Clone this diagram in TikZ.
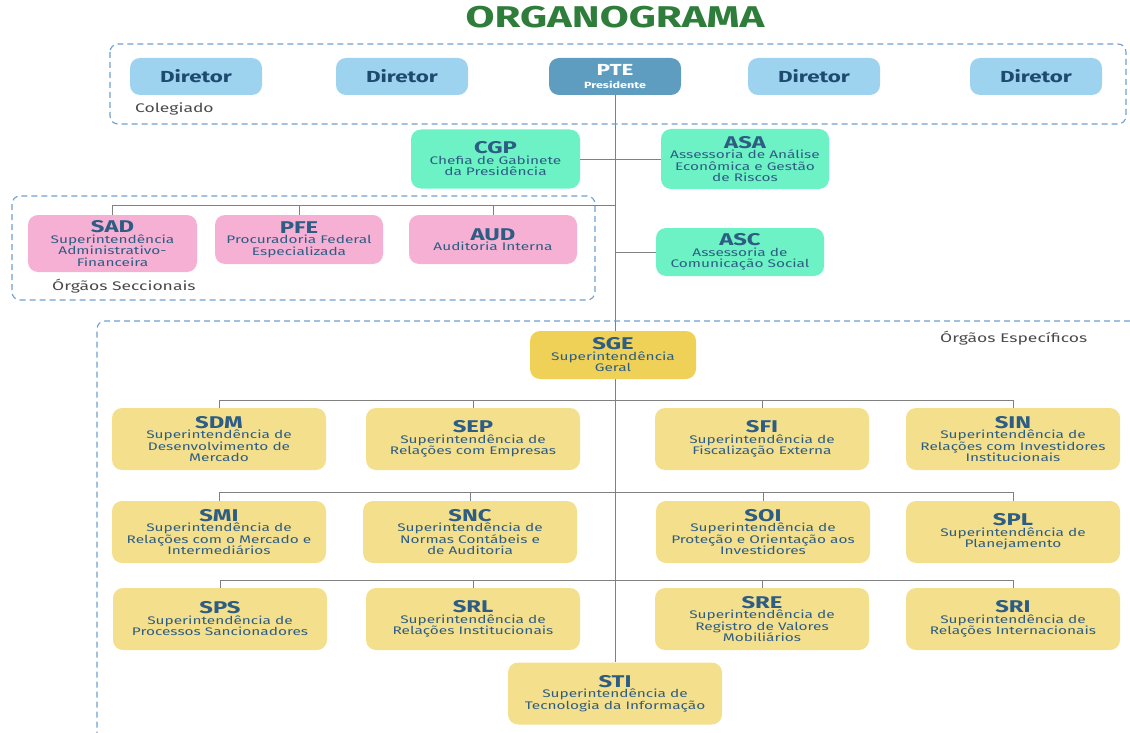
\documentclass[tikz,border=0pt]{standalone}
\usepackage{fontspec}
\setmainfont{Fira Sans}[FakeStretch=1.4]
\usepackage{xcolor}
\usetikzlibrary{backgrounds}
\definecolor{titgreen}{HTML}{2E7D3A}
\definecolor{navy}{HTML}{1F4A70}
\definecolor{navylight}{HTML}{2E5D84}
\definecolor{dashblue}{HTML}{6E9FCF}
\definecolor{dirblue}{HTML}{9DD3EE}
\definecolor{ptblue}{HTML}{5E9DC0}
\definecolor{mint}{HTML}{6CF2C5}
\definecolor{pink}{HTML}{F5B0D4}
\definecolor{sgeyellow}{HTML}{F0D158}
\definecolor{yellow}{HTML}{F4DF8C}
\definecolor{linkgray}{HTML}{808080}
\definecolor{labelgray}{HTML}{4A4A4A}
\newcommand{\sigla}[2]{{\fontsize{17}{16}\selectfont\bfseries #1}\\[-1pt]#2}

\begin{document}
\begin{tikzpicture}[x=1pt,y=-1pt,
    orgbox/.style={rounded corners=10pt, inner sep=0pt, align=center, text=navylight,
        font=\fontsize{11}{11.5}\selectfont},
    diretor/.style={orgbox, fill=dirblue, minimum width=132, minimum height=37, text=navy,
        font=\fontsize{16}{16}\selectfont\bfseries},
    assess/.style={orgbox, fill=mint, minimum width=168},
    secc/.style={orgbox, fill=pink, minimum width=168},
    superint/.style={orgbox, fill=yellow, minimum width=214, minimum height=62},
    grupo/.style={draw=dashblue, line width=1.1pt, dash pattern=on 6pt off 4pt, rounded corners=8pt},
    grupotxt/.style={anchor=west, inner sep=0pt, text=labelgray, font=\fontsize{12.5}{13}\selectfont},
    link/.style={draw=linkgray, line width=0.9pt}]
    \useasboundingbox (0,0) rectangle (1130,733);
    \node[text=titgreen, font=\fontsize{30}{32}\selectfont\bfseries] (titulo) at (615,17) {ORGANOGRAMA};
    \draw[grupo] (110,44) rectangle (1126,124);
    \draw[grupo] (12,196) rectangle (595,300);
    \draw[grupo] (1130,321) -- (97,321) -- (97,740);
    \node[grupotxt] (colegiado) at (135,109) {Colegiado};
    \node[grupotxt] (seccionais) at (52,286) {Órgãos Seccionais};
    \node[grupotxt] (especificos) at (940,338) {Órgãos Específicos};

    \node[diretor] (dir1) at (196,76.5) {Diretor};
    \node[diretor] (dir2) at (402,76.5) {Diretor};
    \node[diretor, fill=ptblue, text=white, align=center] (PTE) at (615,76.5)
        {PTE\\[-3pt]{\fontsize{9}{9}\selectfont Presidente}};
    \node[diretor] (dir3) at (814,76.5) {Diretor};
    \node[diretor] (dir4) at (1036,76.5) {Diretor};

    \node[assess, minimum width=169, minimum height=59] (CGP) at (495.5,159)
        {\sigla{CGP}{Chefia de Gabinete\\da Presidência}};
    \node[assess, minimum height=60] (ASA) at (745,159)
        {\sigla{ASA}{Assessoria de Análise\\Econômica e Gestão\\de Riscos}};
    \node[secc, minimum width=169, minimum height=57] (SAD) at (112.5,243.5)
        {\sigla{SAD}{Superintendência\\Administrativo-\\Financeira}};
    \node[secc, minimum height=49] (PFE) at (299,239.5)
        {\sigla{PFE}{Procuradoria Federal\\Especializada}};
    \node[secc, minimum height=49] (AUD) at (493,239.5)
        {\sigla{AUD}{Auditoria Interna}};
    \node[assess, minimum height=48] (ASC) at (740,252)
        {\sigla{ASC}{Assessoria de\\Comunicação Social}};

    \node[superint, fill=sgeyellow, minimum width=166, minimum height=48] (SGE) at (613,355)
        {\sigla{SGE}{Superintendência\\Geral}};
    \node[superint] (SDM) at (219,439) {\sigla{SDM}{Superintendência de\\Desenvolvimento de\\Mercado}};
    \node[superint] (SEP) at (473,439) {\sigla{SEP}{Superintendência de\\Relações com Empresas}};
    \node[superint] (SFI) at (762,439) {\sigla{SFI}{Superintendência de\\Fiscalização Externa}};
    \node[superint] (SIN) at (1013,439) {\sigla{SIN}{Superintendência de\\Relações com Investidores\\Institucionais}};
    \node[superint] (SMI) at (219,532) {\sigla{SMI}{Superintendência de\\Relações com o Mercado e\\Intermediários}};
    \node[superint] (SNC) at (470,532) {\sigla{SNC}{Superintendência de\\Normas Contábeis e\\de Auditoria}};
    \node[superint] (SOI) at (763,532) {\sigla{SOI}{Superintendência de\\Proteção e Orientação aos\\Investidores}};
    \node[superint] (SPL) at (1013,532) {\sigla{SPL}{Superintendência de\\Planejamento}};
    \node[superint] (SPS) at (220,619) {\sigla{SPS}{Superintendência de\\Processos Sancionadores}};
    \node[superint] (SRL) at (473,619) {\sigla{SRL}{Superintendência de\\Relações Institucionais}};
    \node[superint] (SRE) at (762,619) {\sigla{SRE}{Superintendência de\\Registro de Valores\\Mobiliários}};
    \node[superint] (SRI) at (1013,619) {\sigla{SRI}{Superintendência de\\Relações Internacionais}};
    \node[superint] (STI) at (615,693.5) {\sigla{STI}{Superintendência de\\Tecnologia da Informação}};

    \coordinate (barSec) at (615,205);
    \coordinate (bar1) at (615,400);
    \coordinate (bar2) at (615,492);
    \coordinate (bar3) at (615,580);
    \begin{scope}[on background layer]
    \draw[link] (PTE.south) -- (STI.north);
    \draw[link] (CGP.east) -- (ASA.west);
    \draw[link] (ASC.west) -- (ASC.west -| PTE.south);
    \foreach \n in {SAD,PFE,AUD} \draw[link] (\n.north) |- (barSec);
    \foreach \n in {SDM,SEP,SFI,SIN} \draw[link] (\n.north) |- (bar1);
    \foreach \n in {SMI,SNC,SOI,SPL} \draw[link] (\n.north) |- (bar2);
    \foreach \n in {SPS,SRL,SRE,SRI} \draw[link] (\n.north) |- (bar3);
    \end{scope}
\end{tikzpicture}
\end{document}
